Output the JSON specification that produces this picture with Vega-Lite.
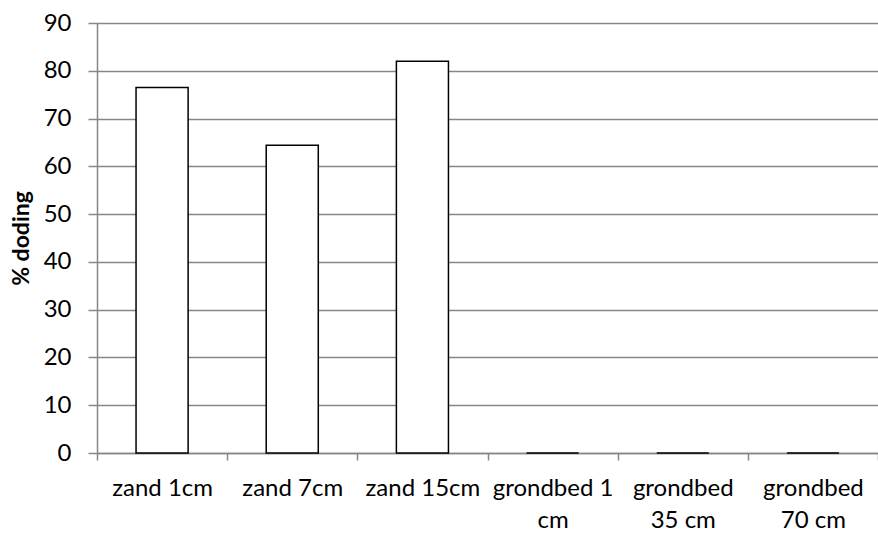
{
  "$schema": "https://vega.github.io/schema/vega-lite/v6.json",
  "width": 781,
  "height": 430,
  "autosize": {"type": "none"},
  "padding": {"left": 97, "top": 23, "right": 0, "bottom": 80},
  "background": "white",
  "data": {
    "values": [
      {"categorie": "zand 1cm", "doding": 76.5},
      {"categorie": "zand 7cm", "doding": 64.4},
      {"categorie": "zand 15cm", "doding": 82.0},
      {"categorie": "grondbed 1 cm", "doding": 0},
      {"categorie": "grondbed 35 cm", "doding": 0},
      {"categorie": "grondbed 70 cm", "doding": 0}
    ]
  },
  "mark": {"type": "bar", "fill": "white", "stroke": "black", "strokeWidth": 1.5, "width": {"band": 0.4}},
  "encoding": {
    "x": {
      "field": "categorie",
      "type": "nominal",
      "sort": null,
      "scale": {"paddingInner": 0, "paddingOuter": 0},
      "axis": {
        "title": null,
        "labelAngle": 0,
        "tickBand": "extent",
        "grid": false,
        "domainColor": "#868686",
        "domainWidth": 1.5,
        "tickColor": "#868686",
        "tickWidth": 1.5,
        "tickSize": 7,
        "labelPadding": 16,
        "labelFont": "Lato",
        "labelFontSize": 24,
        "labelColor": "black",
        "labelLineHeight": 32,
        "labelBaseline": "top",
        "labelExpr": "datum.value == 'grondbed 1 cm' ? ['grondbed 1', 'cm'] : datum.value == 'grondbed 35 cm' ? ['grondbed', '35 cm'] : datum.value == 'grondbed 70 cm' ? ['grondbed', '70 cm'] : datum.value"
      }
    },
    "y": {
      "field": "doding",
      "type": "quantitative",
      "scale": {"domain": [0, 90], "nice": false},
      "axis": {
        "title": "% doding",
        "titleFont": "Lato",
        "titleFontSize": 23,
        "titleFontWeight": "bold",
        "titleColor": "black",
        "titlePadding": 10,
        "values": [0, 10, 20, 30, 40, 50, 60, 70, 80, 90],
        "grid": true,
        "gridColor": "#868686",
        "gridWidth": 1.5,
        "domainColor": "#868686",
        "domainWidth": 1.5,
        "tickColor": "#868686",
        "tickWidth": 1.5,
        "tickSize": 9,
        "labelPadding": 17,
        "labelFont": "Lato",
        "labelFontSize": 24,
        "labelColor": "black"
      }
    }
  },
  "config": {"view": {"stroke": null}}
}
